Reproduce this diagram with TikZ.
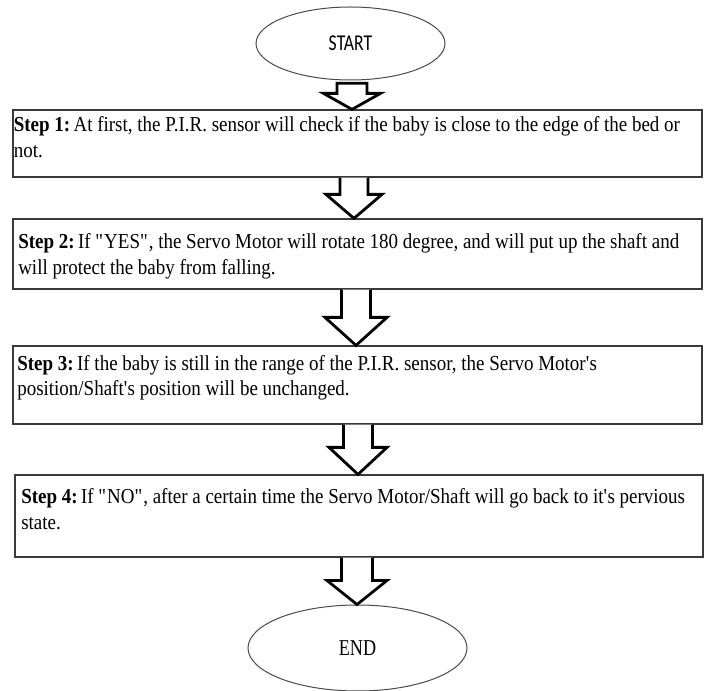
\documentclass[tikz,border=0pt]{standalone}
\usepackage{fontspec}
\setmainfont{Liberation Serif}[FakeStretch=0.89]
\newfontfamily\startfont{Carlito}[FakeStretch=0.78]
\newfontfamily\endfont{Liberation Serif}[FakeStretch=0.8]
\usetikzlibrary{shapes.geometric,calc}
\definecolor{boxline}{HTML}{3A3A3A}
\definecolor{ellline}{HTML}{4A4A4A}
\newcommand\stepgap{\hspace{0.16em}}
\tikzset{
  stepbox/.style={draw=boxline, line width=0.9pt, inner sep=0pt, minimum width=516.75pt},
  terminal/.style={draw=ellline, ellipse, line width=0.75pt, inner sep=0pt},
  steptext/.style={anchor=north west, inner sep=0pt, align=left,
    font=\fontsize{16pt}{19pt}\selectfont},
  blockarr/.style={draw=black, line width=2.1pt, line join=miter, fill=white}
}
% #1 from node, #2 to node, #3 axis coordinate, #4 shaft half width, #5 head half width, #6 head length (px)
\newcommand\blockarrow[6]{%
  \draw[blockarr] let \p1=(#1.south -| #3), \p2=(#2.north -| #3) in
    (\x1-#4*0.75pt,\y1) -- (\x1-#4*0.75pt,\y2+#6*0.75pt) -- (\x1-#5*0.75pt,\y2+#6*0.75pt)
    -- (\p2) -- (\x1+#5*0.75pt,\y2+#6*0.75pt) -- (\x1+#4*0.75pt,\y2+#6*0.75pt) -- (\x1+#4*0.75pt,\y1);
}
\begin{document}
\begin{tikzpicture}[x=0.75pt,y=-0.75pt]
\useasboundingbox (0,0) rectangle (704,691);
\fill[white] (0,0) rectangle (704,691);

% terminals
\node[terminal, minimum width=141.75pt, minimum height=54.75pt] (start) at (350.5,43.5)
  {\startfont\fontsize{17pt}{20pt}\selectfont START};
\node[terminal, minimum width=164.25pt, minimum height=64.5pt] (end) at (357.5,648)
  {\endfont\fontsize{17pt}{20pt}\selectfont END};

% step boxes
\node[stepbox, minimum height=50.25pt] (b1) at (357.5,143.5) {};
\node[stepbox, minimum height=52.5pt] (b2) at (357.5,254) {};
\node[stepbox, minimum height=58.5pt] (b3) at (357.5,385) {};
\node[stepbox, minimum width=516pt, minimum height=61.5pt] (b4) at (359,516) {};

% step texts
\node[steptext] (t1) at (13.5,116.5)
  {\textbf{Step 1:}\stepgap At first, the P.I.R. sensor will check if the baby is close to the edge of the bed or\\not.};
\node[steptext] (t2) at (18,233.5)
  {\textbf{Step 2:}\stepgap If \textquotedbl YES\textquotedbl, the Servo Motor will rotate 180 degree, and will put up the shaft and\\will protect the baby from falling.};
\node[steptext] (t3) at (17,355)
  {\textbf{Step 3:}\stepgap If the baby is still in the range of the P.I.R. sensor, the Servo Motor\textquotesingle s\\position/Shaft\textquotesingle s position will be unchanged.};
\node[steptext] (t4) at (21,488.5)
  {\textbf{Step 4:}\stepgap If \textquotedbl NO\textquotedbl, after a certain time the Servo Motor/Shaft will go back to it\textquotesingle s pervious\\state.};

% arrow axes
\coordinate (ax1) at (352,0);
\coordinate (ax2) at (354,0);
\coordinate (ax3) at (356,0);
\coordinate (ax4) at (358,0);
\coordinate (ax5) at (357,0);

% first arrow (closed top)
\draw[blockarr] let \p1=(start.south -| ax1), \p2=(b1.north -| ax1) in
  (\x1-15*0.75pt,\y1-2pt) -- (\x1-15*0.75pt,\y2+16*0.75pt) -- (\x1-28.5*0.75pt,\y2+16*0.75pt)
  -- (\p2) -- (\x1+28.5*0.75pt,\y2+16*0.75pt) -- (\x1+15*0.75pt,\y2+16*0.75pt) -- (\x1+15*0.75pt,\y1-2pt) -- cycle;

\blockarrow{b1}{b2}{ax2}{14}{28}{24}
\blockarrow{b2}{b3}{ax3}{14.5}{31}{28}
\blockarrow{b3}{b4}{ax4}{14.5}{29}{27}
\blockarrow{b4}{end}{ax5}{15.5}{30}{24}
\end{tikzpicture}
\end{document}
